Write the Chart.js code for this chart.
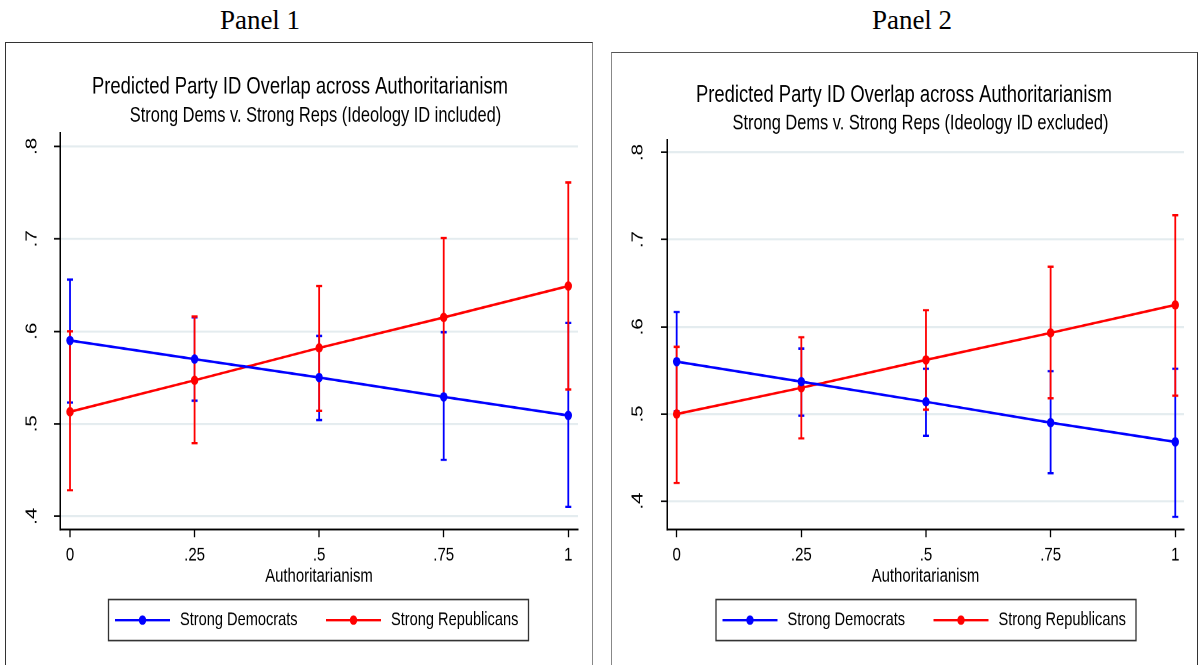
<!DOCTYPE html>
<html lang="en">
<head>
<meta charset="UTF-8">
<title>Predicted Party ID Overlap across Authoritarianism</title>
<script src="https://cdn.jsdelivr.net/npm/chart.js"></script>
<style>
  body {
    margin: 0;
    width: 1204px;
    height: 665px;
    overflow: hidden;
    position: relative;
    background: #fff;
  }
  .label {
    position: absolute;
    top: 7px;
    font-family: 'Liberation Serif', 'Times New Roman', serif;
    font-size: 27px;
    line-height: 1;
    color: #000;
    transform: translateX(-50%);
    white-space: nowrap;
  }
  .frame {
    position: absolute;
    height: 700px;
    box-sizing: border-box;
    border: 1.5px solid #555;
  }
  .stretch {
    position: absolute;
    top: 0;
    transform-origin: 0 0;
  }
</style>
</head>
<body>
  <div class="label" style="left:260px">Panel 1</div>
  <div class="label" style="left:912px">Panel 2</div>
  <div class="frame" style="left:5px; top:42px; width:588px; border-color:#333 #888 #555 #333"></div>
  <div class="frame" style="left:611px; top:52px; width:587px; border-color:#555 #333 #555 #888"></div>
  <div class="stretch" id="wrap1" style="left:0px; width:600px"><canvas id="chart1"></canvas></div>
  <div class="stretch" id="wrap2" style="left:606px; width:598px"><canvas id="chart2"></canvas></div>

<script>
// data
const xValues = [0, 0.25, 0.5, 0.75, 1];
const xTickLabels = ['0', '.25', '.5', '.75', '1'];
const yTickValues = [0.4, 0.5, 0.6, 0.7, 0.8];
const yTickLabels = ['.4', '.5', '.6', '.7', '.8'];
const seriesNames = ['Strong Democrats', 'Strong Republicans'];

// panel 1: ideology ID included
const dem1 = [0.590, 0.570, 0.550, 0.529, 0.509];
const dem1Lo = [0.523, 0.525, 0.504, 0.461, 0.410];
const dem1Hi = [0.656, 0.615, 0.595, 0.599, 0.609];
const rep1 = [0.513, 0.547, 0.582, 0.615, 0.649];
const rep1Lo = [0.428, 0.479, 0.514, 0.529, 0.537];
const rep1Hi = [0.600, 0.616, 0.649, 0.701, 0.761];

// panel 2: ideology ID excluded
const dem2 = [0.560, 0.537, 0.514, 0.490, 0.468];
const dem2Lo = [0.503, 0.498, 0.475, 0.432, 0.382];
const dem2Hi = [0.617, 0.575, 0.552, 0.549, 0.552];
const rep2 = [0.500, 0.530, 0.562, 0.593, 0.625];
const rep2Lo = [0.421, 0.472, 0.505, 0.518, 0.521];
const rep2Hi = [0.577, 0.588, 0.619, 0.669, 0.728];

const mainTitle = 'Predicted Party ID Overlap across Authoritarianism';
const subTitle1 = 'Strong Dems v. Strong Reps (Ideology ID included)';
const subTitle2 = 'Strong Dems v. Strong Reps (Ideology ID excluded)';
const xTitle = 'Authoritarianism';

// the original graph is stretched vertically
const K = 1.28;
const H = 665 / K;
const FONT = "'Liberation Sans', Arial, sans-serif";
Chart.defaults.font.family = FONT;
Chart.defaults.color = '#000';

const errorBars = {
  id: 'errorBars',
  beforeDatasetsDraw(chart) {
    const { ctx, scales: { x, y } } = chart;
    ctx.save();
    chart.data.datasets.forEach(ds => {
      ctx.strokeStyle = ds.borderColor;
      ctx.lineWidth = 1.8;
      ds.data.forEach((p, i) => {
        const px = x.getPixelForValue(p.x);
        const top = y.getPixelForValue(ds.errHi[i]);
        const bot = y.getPixelForValue(ds.errLo[i]);
        ctx.beginPath();
        ctx.moveTo(px, top); ctx.lineTo(px, bot);
        ctx.moveTo(px - 3, top); ctx.lineTo(px + 3, top);
        ctx.moveTo(px - 3, bot); ctx.lineTo(px + 3, bot);
        ctx.stroke();
      });
    });
    ctx.restore();
  }
};

// titles, axis title and boxed legend, drawn the Stata way
const stataText = {
  id: 'stataText',
  afterDraw(chart, args, o) {
    const ctx = chart.ctx;
    const area = chart.chartArea;
    ctx.save();
    ctx.fillStyle = '#000';
    ctx.textAlign = 'center';
    ctx.textBaseline = 'middle';
    ctx.font = '18.4px ' + FONT;
    ctx.fillText(o.title, o.titleX, o.titleY);
    ctx.font = '16.4px ' + FONT;
    ctx.fillText(o.subtitle, o.subX, o.subY);
    ctx.font = '14.9px ' + FONT;
    ctx.fillText(xTitle, (area.left + area.right) / 2, 576 / K);

    const lx = o.legendX, ly = 599 / K, lw = 420, lh = 41 / K;
    ctx.strokeStyle = '#333';
    ctx.lineWidth = 1.3;
    ctx.strokeRect(lx, ly, lw, lh);
    const cy = ly + lh / 2;
    const offs = [6.5, 217.5];
    ctx.font = '14.6px ' + FONT;
    ctx.textAlign = 'left';
    chart.data.datasets.forEach((ds, i) => {
      const x0 = lx + offs[i];
      ctx.strokeStyle = ds.borderColor;
      ctx.lineWidth = 2;
      ctx.beginPath();
      ctx.moveTo(x0, cy); ctx.lineTo(x0 + 55, cy);
      ctx.stroke();
      ctx.fillStyle = ds.borderColor;
      ctx.beginPath();
      ctx.arc(x0 + 27.5, cy, 3.7, 0, Math.PI * 2);
      ctx.fill();
      ctx.fillStyle = '#000';
      ctx.fillText(ds.label, x0 + 65, cy);
    });
    ctx.restore();
  }
};

function series(label, color, vals, lo, hi) {
  return {
    label: label,
    data: xValues.map((x, i) => ({ x: x, y: vals[i] })),
    errLo: lo,
    errHi: hi,
    borderColor: color,
    backgroundColor: color,
    borderWidth: 2,
    pointRadius: 3.7,
    pointHoverRadius: 3.7,
    pointBorderWidth: 0,
    tension: 0
  };
}

function buildPanel(wrapId, canvasId, p) {
  const wrap = document.getElementById(wrapId);
  wrap.style.height = H + 'px';
  wrap.style.transform = 'scaleY(' + K + ')';
  const width = wrap.clientWidth;
  return new Chart(document.getElementById(canvasId), {
    type: 'line',
    data: {
      datasets: [
        series(seriesNames[0], '#0000ff', p.dem, p.demLo, p.demHi),
        series(seriesNames[1], '#ff0000', p.rep, p.repLo, p.repHi)
      ]
    },
    options: {
      responsive: true,
      maintainAspectRatio: false,
      animation: false,
      devicePixelRatio: 2,
      layout: { padding: { top: p.top / K, right: width - p.right, bottom: 0, left: 0 } },
      plugins: {
        legend: { display: false },
        tooltip: { enabled: false },
        stataText: {
          title: mainTitle, titleX: p.titleX, titleY: p.titleY / K,
          subtitle: p.subtitle, subX: p.subX, subY: p.subY / K,
          legendX: p.legendX
        }
      },
      scales: {
        x: {
          type: 'linear',
          min: p.xMin,
          max: p.xMax,
          afterBuildTicks: s => { s.ticks = xValues.map(v => ({ value: v })); },
          afterFit: s => { s.height = H - 529 / K; },
          ticks: {
            callback: (v, i) => xTickLabels[i],
            font: { size: 15 },
            color: '#000',
            padding: 5,
            maxRotation: 0
          },
          grid: { drawOnChartArea: false, tickLength: 6, tickColor: '#000', tickWidth: 1.3 },
          border: { color: '#000', width: 1.5 }
        },
        y: {
          min: p.yMin,
          max: p.yMax,
          afterBuildTicks: s => { s.ticks = yTickValues.map(v => ({ value: v })); },
          afterFit: s => { s.width = p.left; },
          ticks: {
            callback: (v, i) => yTickLabels[i],
            font: { size: 16 },
            color: '#000',
            minRotation: 90,
            maxRotation: 90,
            crossAlign: 'center',
            padding: p.yPad
          },
          grid: { color: '#e4ecef', lineWidth: 1.6, tickLength: 6, tickColor: '#000', tickWidth: 1.3 },
          border: { color: '#000', width: 1.5 }
        }
      }
    },
    plugins: [errorBars, stataText]
  });
}

buildPanel('wrap1', 'chart1', {
  dem: dem1, demLo: dem1Lo, demHi: dem1Hi,
  rep: rep1, repLo: rep1Lo, repHi: rep1Hi,
  subtitle: subTitle1,
  left: 60, right: 578, top: 133,
  xMin: -0.0201, xMax: 1.0195, yMin: 0.3856, yMax: 0.8144,
  yPad: 15,
  titleX: 300, titleY: 87, subX: 315.5, subY: 115.5,
  legendX: 108.5
});

buildPanel('wrap2', 'chart2', {
  dem: dem2, demLo: dem2Lo, demHi: dem2Hi,
  rep: rep2, repLo: rep2Lo, repHi: rep2Hi,
  subtitle: subTitle2,
  left: 61, right: 578, top: 140,
  xMin: -0.0194, xMax: 1.0175, yMin: 0.3675, yMax: 0.8141,
  yPad: 16,
  titleX: 298, titleY: 95, subX: 314.5, subY: 123.5,
  legendX: 110
});
</script>
</body>
</html>
